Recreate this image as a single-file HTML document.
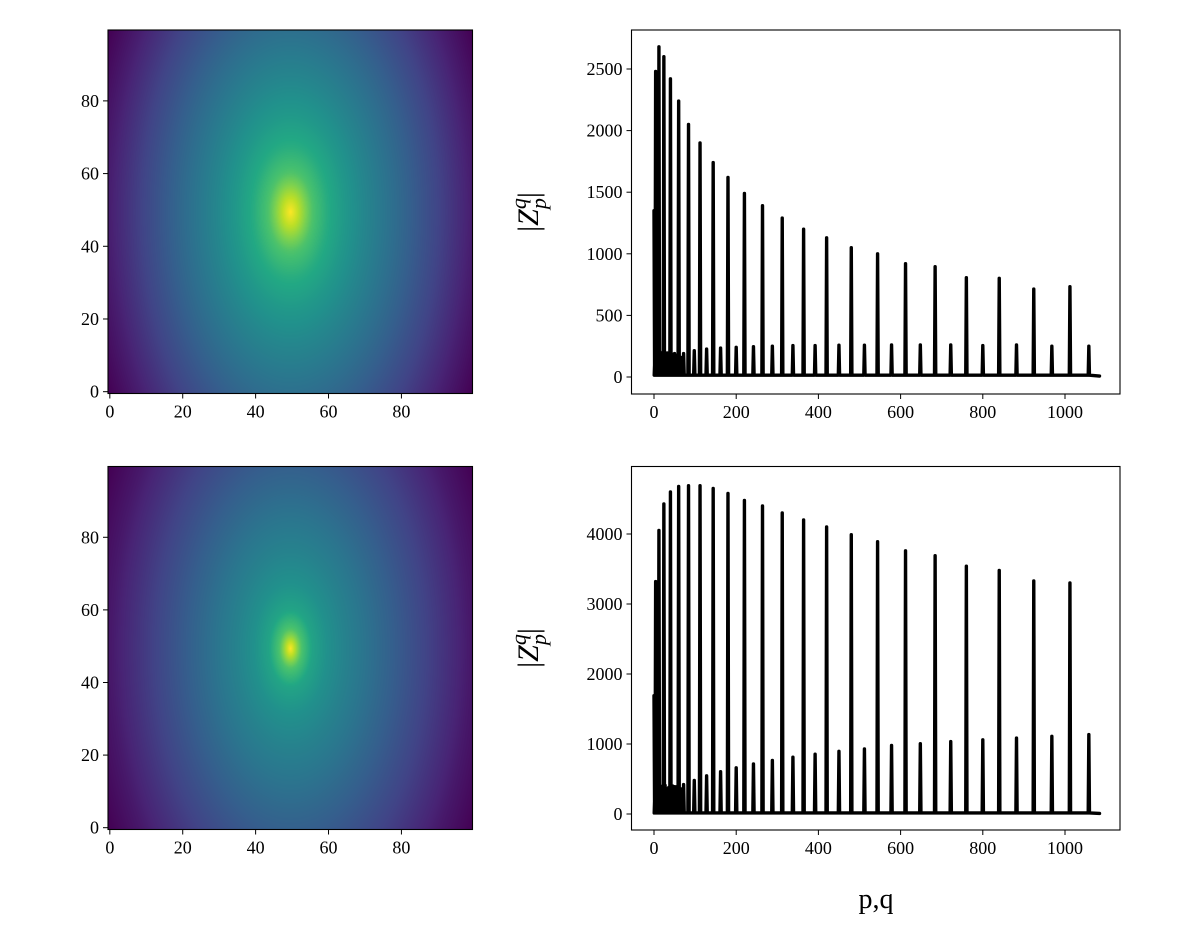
<!DOCTYPE html>
<html><head><meta charset="utf-8">
<style>
html,body{margin:0;padding:0;background:#fff;}
#wrap{position:relative;width:1192px;height:927px;overflow:hidden;}
canvas{position:absolute;}
svg{position:absolute;left:0;top:0;}
text{font-family:"Liberation Serif",serif;fill:#000;}
</style></head>
<body>
<div id="wrap">
<canvas id="hm1" width="365" height="364" style="left:108px;top:30px"></canvas>
<canvas id="hm2" width="365" height="363" style="left:108px;top:467px"></canvas>
<svg id="svg" width="1192" height="927" xmlns="http://www.w3.org/2000/svg"></svg>
</div>
<script>
// ---- heatmap radial profiles ----
const profileR = [0, 3, 6, 10, 15, 20, 30, 40, 49, 57, 75];
const profileTop = [1.0, 0.86, 0.72, 0.62, 0.53, 0.46, 0.34, 0.21, 0.09, 0.0, 0.0];
const profileBot = [1.0, 0.72, 0.58, 0.5, 0.44, 0.39, 0.28, 0.17, 0.07, 0.0, 0.0];
const aspectY = 1.8;

// ---- spectrum data ----
const bigPos = [0,4,12,24,40,60,84,112,144,180,220,264,312,364,420,480,544,612,684,760,840,924,1012];
const topBig = [1350,2480,2680,2600,2420,2240,2050,1900,1740,1620,1490,1390,1290,1200,1130,1050,1000,920,895,806,801,714,733];
const botBig = [1690,3320,4050,4430,4600,4680,4690,4690,4650,4580,4480,4400,4300,4200,4100,3990,3890,3760,3690,3540,3480,3330,3300];
const smallPos = [8,18,32,50,72,98,128,162,200,242,288,338,392,450,512,578,648,722,800,882,968,1058];
const topSmall = [190,195,195,190,190,213,227,235,241,246,250,255,255,258,258,260,260,260,255,260,250,250];
const botSmall = [300,330,360,390,420,480,545,605,660,715,765,812,855,895,930,980,1005,1035,1060,1085,1110,1135];
const minorPos = [2,6,10,15,21,27,36,45,55,65];
const topMinor = [150,180,170,185,175,180,170,185,175,160];
const botMinor = [300,350,380,400,390,410,380,400,390,360];
const xEnd = 1084;

const xTicks = [0,200,400,600,800,1000];
const yTicksTop = [0,500,1000,1500,2000,2500];
const yTicksBot = [0,1000,2000,3000,4000];
const imgTicks = [0,20,40,60,80];

const vir = ["#440154","#482475","#414487","#355f8d","#2a788e","#21918c","#22a884","#44bf70","#7ad151","#bddf26","#fde725"];
function hex(c){return [parseInt(c.substr(1,2),16),parseInt(c.substr(3,2),16),parseInt(c.substr(5,2),16)];}
const virRGB = vir.map(hex);
function cmap(v){v=Math.max(0,Math.min(1,v));const f=v*10;const i=Math.min(9,Math.floor(f));const t=f-i;const a=virRGB[i],b=virRGB[i+1];return [a[0]+(b[0]-a[0])*t,a[1]+(b[1]-a[1])*t,a[2]+(b[2]-a[2])*t];}
function prof(arr,d){for(let i=0;i<profileR.length-1;i++){if(d<=profileR[i+1]){const t=(d-profileR[i])/(profileR[i+1]-profileR[i]);return arr[i]+(arr[i+1]-arr[i])*t;}}return arr[arr.length-1];}
function drawHM(id,arr){
  const c=document.getElementById(id),ctx=c.getContext('2d');const W=c.width,H=c.height;
  const im=ctx.createImageData(W,H);
  for(let py=0;py<H;py++)for(let px=0;px<W;px++){
    const ux=-0.5+100*(px+0.5)/W, uy=99.5-100*(py+0.5)/H;
    const dx=ux-49.5, dy=(uy-49.5)/aspectY;
    const d=Math.sqrt(dx*dx+dy*dy);
    const col=cmap(prof(arr,d));const k=(py*W+px)*4;
    im.data[k]=col[0];im.data[k+1]=col[1];im.data[k+2]=col[2];im.data[k+3]=255;}
  ctx.putImageData(im,0,0);
}
drawHM('hm1',profileTop);drawHM('hm2',profileBot);

const NS="http://www.w3.org/2000/svg";
const svg=document.getElementById('svg');
function el(tag,attrs,parent){const e=document.createElementNS(NS,tag);for(const k in attrs)e.setAttribute(k,attrs[k]);(parent||svg).appendChild(e);return e;}

function imgAxes(top,bottom,prefix){
  const g=el('g',{});
  
  
  const left=108,right=472.5;
  const sx=v=>left+(v+0.5)*(right-left)/100;
  const sy=v=>bottom-(v+0.5)*(bottom-top)/100;
  el('rect',{x:left,y:top,width:right-left,height:bottom-top,fill:'none',stroke:'#000','stroke-width':1.1},g);
  imgTicks.forEach(t=>{
    el('line',{x1:sx(t),x2:sx(t),y1:bottom,y2:bottom+5,stroke:'#000','stroke-width':1},g);
    const tx=el('text',{x:sx(t),y:bottom+24,'font-size':18,'text-anchor':'middle'},g);tx.textContent=t;
    
    
    el('line',{x1:left-5,x2:left,y1:sy(t),y2:sy(t),stroke:'#000','stroke-width':1},g);
    const ty=el('text',{x:left-9,y:sy(t)+6,'font-size':18,'text-anchor':'end'},g);ty.textContent=t;
    
    
  });
}
imgAxes(30,393.5,'heatmap-top');
imgAxes(466.5,829.5,'heatmap-bottom');

function specAxes(top,bottom,y0px,pxPerUnit,yTicks,big,small,minor,prefix,labelY){
  const g=el('g',{});
  
  
  const left=631.5,right=1120;
  const sx=v=>654+v*0.411;
  const sy=v=>y0px-v*pxPerUnit;
  const pts=[];
  bigPos.forEach((p,i)=>pts.push([p,big[i]]));
  smallPos.forEach((p,i)=>pts.push([p,small[i]]));
  minorPos.forEach((p,i)=>pts.push([p,minor[i]]));
  pts.sort((a,b)=>a[0]-b[0]);
  let d='';
  pts.forEach((pt,i)=>{
    const p=pt[0];
    if(i===0&&p===0){d+='M'+sx(0)+','+sy(pt[1]);}
    else{d+=(d?'L':'M')+sx(p-1.5)+','+sy(15)+'L'+sx(p)+','+sy(pt[1]);}
    d+='L'+sx(p+1.5)+','+sy(15);
  });
  d+='L'+sx(xEnd)+','+sy(8);
  const path=el('path',{d:d,fill:'none',stroke:'#000','stroke-width':3.4,'stroke-linejoin':'round','stroke-linecap':'round'},g);
  
  
  el('rect',{x:left,y:top,width:right-left,height:bottom-top,fill:'none',stroke:'#000','stroke-width':1.1},g);
  xTicks.forEach(t=>{
    el('line',{x1:sx(t),x2:sx(t),y1:bottom,y2:bottom+5,stroke:'#000','stroke-width':1},g);
    const tx=el('text',{x:sx(t),y:bottom+24,'font-size':18,'text-anchor':'middle'},g);tx.textContent=t;
    
    
  });
  yTicks.forEach(t=>{
    el('line',{x1:left-5,x2:left,y1:sy(t),y2:sy(t),stroke:'#000','stroke-width':1},g);
    const ty=el('text',{x:left-9,y:sy(t)+6,'font-size':18,'text-anchor':'end'},g);ty.textContent=t;
    
    
  });
  const lab=el('text',{transform:'translate(538,'+labelY+') rotate(-90)','font-size':30,'text-anchor':'middle'},g);
  
  
  lab.innerHTML='|<tspan font-style="italic">Z</tspan><tspan font-style="italic" font-size="22" dy="-12">q</tspan><tspan font-style="italic" font-size="22" dx="-11" dy="20">p</tspan><tspan dy="-8">|</tspan>';
}
specAxes(30,394,377,0.1232,yTicksTop,topBig,topSmall,topMinor,'spectrum-top',212);
specAxes(466.5,830,814,0.0700,yTicksBot,botBig,botSmall,botMinor,'spectrum-bottom',648);

const xl=el('text',{x:876,y:908,'font-size':28,'text-anchor':'middle'});
xl.textContent='p,q';


</script>
</body></html>
